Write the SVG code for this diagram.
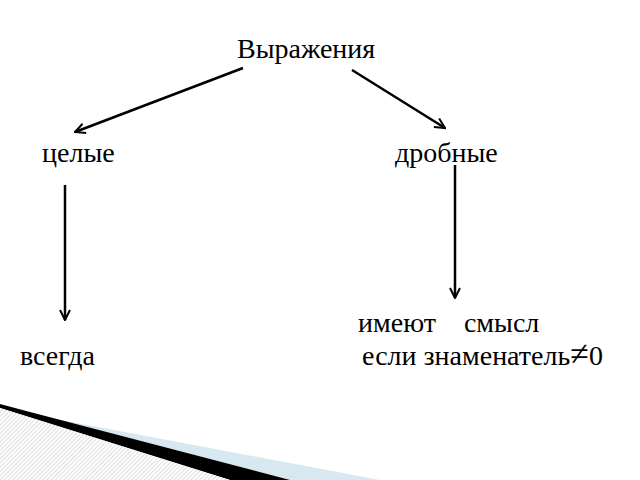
<svg xmlns="http://www.w3.org/2000/svg" width="640" height="480" viewBox="0 0 640 480">
<style>
text{font-family:"Liberation Serif","Times New Roman",serif;font-size:28px;fill:#000}
.c{stroke:#000;stroke-width:2.5;fill:none;marker-end:url(#a)}
</style>
<defs>
<marker id="a" viewBox="0 0 10 10" refX="9" refY="5" markerWidth="5" markerHeight="5" orient="auto" markerUnits="strokeWidth"><path d="M1,1 L9,5 L1,9" fill="none" stroke="#000" stroke-width="1.6"/></marker>
<pattern id="h" width="3" height="3" patternUnits="userSpaceOnUse" patternTransform="rotate(45)"><rect width="3" height="3" fill="#fff"/><line x1="0" y1="0" x2="0" y2="3" stroke="#bbb" stroke-width="1"/></pattern>
</defs>
<g id="deco">
<polygon points="40,416 380,480 290,480" fill="#d8e8f0"/>
<polygon points="0,404 30,412 290,480 230,480 0,408" fill="#000"/>
<polygon points="0,408 230,480 0,480" fill="url(#h)"/>
</g>
<g id="connectors">
<line class="c" x1="243" y1="68" x2="75" y2="132"/>
<line class="c" x1="352" y1="70" x2="445" y2="128"/>
<line class="c" x1="65" y1="185" x2="65" y2="320"/>
<line class="c" x1="455" y1="165" x2="455" y2="298"/>
</g>
<g id="n1"><text x="237" y="58">Выражения</text></g>
<g id="n2"><text x="42" y="162">целые</text></g>
<g id="n3"><text x="395" y="162">дробные</text></g>
<g id="n4"><text x="20" y="365">всегда</text></g>
<g id="n5"><text x="358" y="332" xml:space="preserve">имеют    смысл</text><text x="362" y="365">если знаменатель<tspan font-size="34">≠</tspan>0</text></g>
</svg>
